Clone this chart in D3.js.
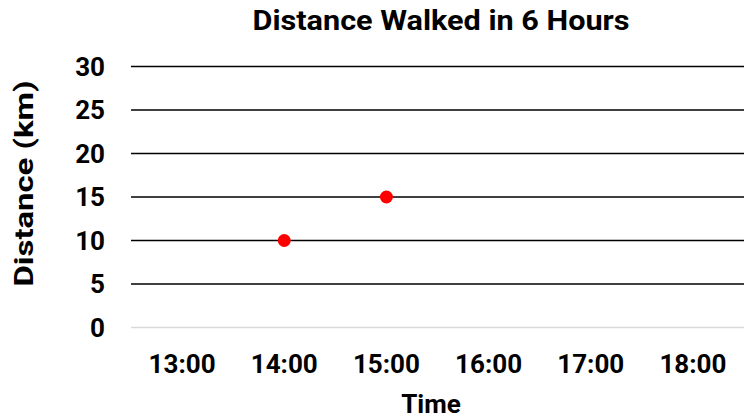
<!DOCTYPE html>
<html>
<head>
<meta charset="utf-8">
<style>
  body { margin: 0; background: #fff; }
  text { font-family: Roboto, "DejaVu Sans", sans-serif; font-weight: bold; fill: #000; }
</style>
</head>
<body>
<svg id="chart"></svg>
<script src="https://cdn.jsdelivr.net/npm/d3@7"></script>
<script>
// data
var times = ["13:00", "14:00", "15:00", "16:00", "17:00", "18:00"];
var walkedTimes = ["14:00", "15:00"];
var distances = [10, 15];
var yTicks = [0, 5, 10, 15, 20, 25, 30];

var width = 750, height = 417;
var margin = {top: 66, right: 6, bottom: 90, left: 131};

var svg = d3.select("#chart")
    .attr("width", width)
    .attr("height", height);

var x = d3.scaleBand()
    .domain(times)
    .range([margin.left, width - margin.right]);

var y = d3.scaleLinear()
    .domain([0, 30])
    .range([height - margin.bottom + 0.5, margin.top + 0.5]);

// gridlines
svg.append("g")
    .selectAll("line")
    .data(yTicks)
    .enter().append("line")
    .attr("x1", margin.left)
    .attr("x2", width - margin.right)
    .attr("y1", function(d) { return y(d); })
    .attr("y2", function(d) { return y(d); })
    .style("stroke", function(d) { return d === 0 ? "#d9d9d9" : "#000"; })
    .style("stroke-width", 1.5);

// y tick labels
svg.append("g")
    .selectAll("text")
    .data(yTicks)
    .enter().append("text")
    .attr("x", 105)
    .attr("y", function(d) { return y(d) + 9; })
    .attr("text-anchor", "end")
    .style("font-size", "26px")
    .text(function(d) { return d; });

// x tick labels
svg.append("g")
    .selectAll("text")
    .data(times)
    .enter().append("text")
    .attr("x", function(d) { return x(d) + x.bandwidth() / 2; })
    .attr("y", 372.5)
    .attr("text-anchor", "middle")
    .style("font-size", "26px")
    .text(function(d) { return d; });

// points
svg.append("g")
    .selectAll("circle")
    .data(distances)
    .enter().append("circle")
    .attr("cx", function(d, i) { return x(walkedTimes[i]) + x.bandwidth() / 2; })
    .attr("cy", function(d) { return y(d); })
    .attr("r", 6.5)
    .style("fill", "#ff0000");

// title (stretched a bit, the original font is wider)
svg.append("text")
    .attr("x", 441)
    .attr("y", 29.5)
    .attr("text-anchor", "middle")
    .attr("textLength", 377)
    .attr("lengthAdjust", "spacingAndGlyphs")
    .style("font-size", "27px")
    .text("Distance Walked in 6 Hours");

// axis titles
svg.append("text")
    .attr("x", 431)
    .attr("y", 412.5)
    .attr("text-anchor", "middle")
    .style("font-size", "26px")
    .text("Time");

svg.append("text")
    .attr("transform", "translate(33,183.5) rotate(-90)")
    .attr("text-anchor", "middle")
    .attr("textLength", 206)
    .attr("lengthAdjust", "spacingAndGlyphs")
    .style("font-size", "26px")
    .text("Distance (km)");
</script>
</body>
</html>
